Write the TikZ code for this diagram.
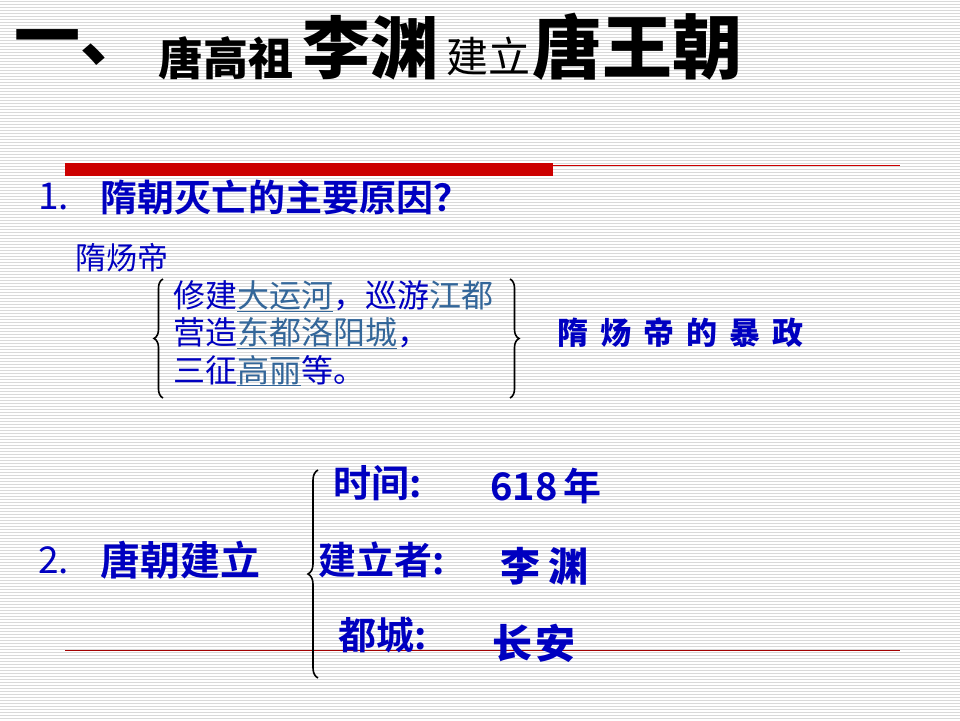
\documentclass[tikz,border=0pt]{standalone}
\usepackage{fontspec}
\usetikzlibrary{decorations.pathreplacing}
\newfontfamily\cjk{Noto Sans CJK SC}[BoldFont=* Bold]
\newfontfamily\cjkb{Noto Sans CJK SC Black}
\definecolor{tblue}{HTML}{0000C0}
\definecolor{lblue}{HTML}{336699}
\definecolor{tred}{HTML}{CC0000}
\begin{document}
\begin{tikzpicture}[x=1pt,y=-1pt,
  txt/.style={inner sep=0pt,anchor=west,font=\cjk},
  brc/.style={draw=black,line width=1.6pt,decorate,decoration={brace,amplitude=9pt}},
  ul/.style={draw=lblue,line width=0.8pt}]
\useasboundingbox (0,0) rectangle (960,720);
\fill[white] (0,0) rectangle (960,720);
\foreach \y in {1,4,...,720} \draw[gray!30,line width=0.8pt] (0,\y) -- (960,\y);
% title
\node[txt,font=\cjkb\fontsize{66}{66}\selectfont] (t1) at (14,48) {一、};
\node[txt,font=\cjkb\fontsize{45}{45}\selectfont] (t2) at (158,58) {唐高祖};
\node[txt,font=\cjkb\fontsize{68}{68}\selectfont] (t3) at (302,48) {李渊};
\node[txt,font=\cjk\fontsize{42}{42}\selectfont] (t4) at (446,56) {建立};
\node[txt,font=\cjkb\fontsize{70}{70}\selectfont] (t5) at (532,47) {唐王朝};
% red bars
\fill[tred] (65,163) rectangle (553,176);
\draw[tred,line width=1pt] (553,165) -- (900,165);
\draw[tred!80!black,line width=1pt] (65,650) -- (900,650);
% part 1
\node[txt,text=tblue,font=\cjk\fontsize{37}{37}\selectfont] (n1) at (38,197) {1.};
\node[txt,text=tblue,font=\cjk\bfseries\fontsize{37}{37}\selectfont] (q1) at (100,197) {隋朝灭亡的主要原因？};
\node[txt,text=tblue,font=\cjk\fontsize{31}{31}\selectfont] (sy) at (75,258) {隋炀帝};
\begin{scope}[every node/.style={txt,font=\cjk\fontsize{32}{32}\selectfont,text=tblue}]
\node (l1) at (173,296) {修建\textcolor{lblue}{大运河}，巡游\textcolor{lblue}{江都}};
\node (l2) at (173,333) {营造\textcolor{lblue}{东都洛阳城}，};
\node (l3) at (173,370) {三征\textcolor{lblue}{高丽}等。};
\end{scope}
\draw[ul] (237,311) -- (333,311);
\draw[ul] (237,348) -- (397,348);
\draw[ul] (237,385) -- (301,385);
\coordinate (b1t) at (163,279); \coordinate (b1b) at (163,398);
\draw[brc] (b1b) -- (b1t);
\coordinate (b2t) at (510,279); \coordinate (b2b) at (510,398);
\draw[brc] (b2t) -- (b2b);
\node[txt,text=tblue,font=\cjkb\fontsize{31}{31}\selectfont] (bz) at (557,333) {隋\hspace{12pt}炀\hspace{12pt}帝\hspace{12pt}的\hspace{12pt}暴\hspace{12pt}政};
% part 2
\node[txt,text=tblue,font=\cjk\fontsize{37}{37}\selectfont] (n2) at (38,560) {2.};
\node[txt,text=tblue,font=\cjk\bfseries\fontsize{40}{40}\selectfont] (q2) at (100,560) {唐朝建立};
\coordinate (b3t) at (318,470); \coordinate (b3b) at (318,678);
\draw[brc,decoration={brace,amplitude=10pt}] (b3b) -- (b3t);
\begin{scope}[every node/.style={txt,font=\cjk\bfseries\fontsize{38}{38}\selectfont,text=tblue}]
\node (k1) at (333,483) {时间:};
\node (k2) at (318,560) {建立者:};
\node (k3) at (338,635) {都城:};
\node (v1) at (490,486) {618\,年};
\end{scope}
\begin{scope}[every node/.style={txt,font=\cjkb\fontsize{40}{40}\selectfont,text=tblue}]
\node (v2) at (500,566) {李\hspace{8pt}渊};
\node (v3) at (492,643) {长\hspace{3pt}安};
\end{scope}
\end{tikzpicture}
\end{document}
